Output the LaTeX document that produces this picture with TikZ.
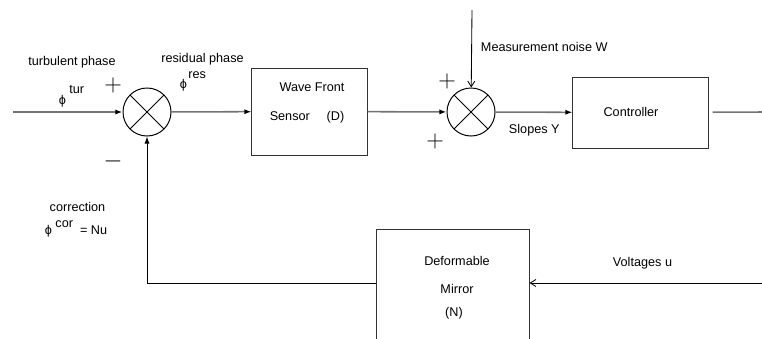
\documentclass[tikz,border=0pt]{standalone}
\usepackage{fontspec}
\setmainfont{Liberation Sans}
\usetikzlibrary{arrows.meta}
\begin{document}
\begin{tikzpicture}[x=0.025cm,y=-0.025cm,font=\fontsize{9}{10}\selectfont,
	sig/.style={draw=black!55,line width=1.1pt},
	fb/.style={draw=black,line width=0.6pt},
	tip/.style={-{Latex[color=black,length=5pt,width=3.6pt]}},
	box/.style={draw=black!80,line width=0.7pt,rectangle,inner sep=0pt},
	summer/.style={draw,circle,line width=0.7pt,minimum size=1.2cm,inner sep=0pt,
		path picture={\draw[line width=0.6pt] (path picture bounding box.north west)--(path picture bounding box.south east)
			(path picture bounding box.north east)--(path picture bounding box.south west);}},
	sgn/.style={font=\fontsize{16}{16}\selectfont,inner sep=0pt}]
	\useasboundingbox (0,0) rectangle (762,338);
	%Nut cong 1,2
	\node[summer] (sumA) at (147,112) {};
	\node[summer] (sumB) at (471,112) {};
	%Khung WFS
	\node[box,minimum width=2.875cm,minimum height=2.175cm] (wfs) at (309.5,111.5) {};
	\node (wfsA) at (312,87) {Wave Front};
	\node (wfsB) at (307,117) {Sensor\hspace{0.42cm}(D)};
	%Khung Controller
	\node[box,minimum width=3.375cm,minimum height=1.775cm] (ctrl) at (640.5,112.5) {};
	\node (ctrlA) at (631,112) {Controller};
	%Khung DM (bi cat o duoi)
	\begin{scope}
		\clip (0,0) rectangle (762,338);
		\node[box,minimum width=3.8cm,minimum height=3.05cm] (dm) at (453,290) {};
	\end{scope}
	\node (dmA) at (457,261) {Deformable};
	\node (dmB) at (457,289) {Mirror};
	\node (dmC) at (454,313) {(N)};
	%Diem dau, diem cuoi
	\coordinate (phin) at (13,112);
	\coordinate (yout) at (762,112);
	\coordinate (wtop) at (472,10);
	\coordinate (uin) at (762,283);
	%Mui ten chinh
	\draw[sig,tip] (phin) -- (sumA);
	\draw[sig,tip] (sumA) -- (wfs);
	\draw[sig,tip] (wfs) -- (sumB);
	\draw[sig,tip] (sumB) -- (ctrl);
	\draw[sig,shorten <=0.1cm] (ctrl) -- (yout);
	\draw[fb,-{Straight Barb[length=4pt,width=5pt]}] (wtop) -- (sumB);
	%Vong phan hoi
	\draw[fb,-{Straight Barb[length=4pt,width=5pt]}] (uin) -- (uin -| dm.east);
	\draw[fb,tip] (uin -| dm.west) -- (uin -| sumA) -- (sumA);
	%Dau
	\node[sgn] (pA) at (113,85) {$+$};
	\node[sgn] (mA) at (113,161) {$-$};
	\node[sgn] (pB) at (447,81) {$+$};
	\node[sgn] (pC) at (435,141) {$+$};
	%Nhan
	\node (turA) at (72,62) {turbulent phase};
	\node (turB) at (71.5,96) {ϕ\hspace{2.5pt}\raisebox{8pt}{tur}};
	\node (resA) at (202.5,59) {residual phase};
	\node (resB) at (193,81) {ϕ\hspace{1pt}\raisebox{7pt}{res}};
	\node[anchor=west] (wlab) at (476,47) {Measurement noise W};
	\node[anchor=west] (ylab) at (504,130) {Slopes Y};
	\node (ulab) at (642.5,263) {Voltages u};
	\node (corA) at (77.5,207) {correction};
	\node (corB) at (76,229) {ϕ\hspace{2.5pt}\raisebox{5pt}{cor}\hspace{5pt}= Nu};
\end{tikzpicture}
\end{document}
